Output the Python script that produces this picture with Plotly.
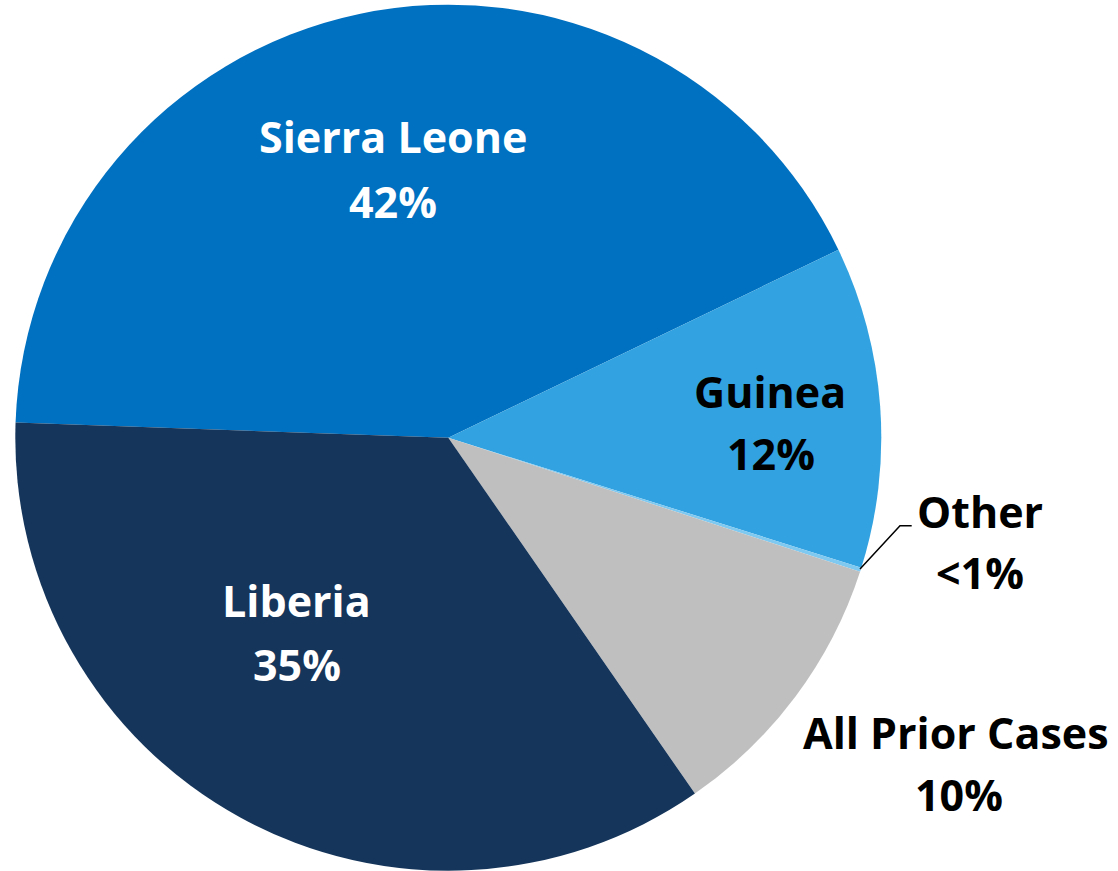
import plotly.graph_objects as go

W, H = 1118, 871

categories = ["Sierra Leone", "Guinea", "Other", "All Prior Cases", "Liberia"]
shares = [42.3, 12.0, 0.15, 10.35, 35.2]          # slice sizes
pct_labels = ["42%", "12%", "<1%", "10%", "35%"]  # printed labels
colors = ["#0070C0", "#32A2E0", "#7FC8F0", "#BFBFBF", "#15355A"]
text_colors = ["white", "black", "black", "black", "white"]

# label centres in pixels (name line, percent line)
label_pos = {
    "Sierra Leone": ((393, 137), (393, 201)),
    "Guinea": ((770, 391), (771, 453)),
    "Other": ((980, 511), (980, 572)),
    "All Prior Cases": ((956, 732), (959, 794)),
    "Liberia": ((296, 600), (297, 664)),
}

cx, cy, r = 448.3, 437.7, 433

fig = go.Figure(go.Pie(
    labels=categories,
    values=shares,
    sort=False,
    direction="clockwise",
    rotation=-88,
    marker=dict(colors=colors, line=dict(width=0)),
    textinfo="none",
    hoverinfo="label+percent",
    showlegend=False,
    domain=dict(x=[(cx - r) / W, (cx + r) / W], y=[1 - (cy + r) / H, 1 - (cy - r) / H]),
))

FONT = "Open Sans"
SIZE = 43
anns = []
for name, pct, tc in zip(categories, pct_labels, text_colors):
    (x1, y1), (x2, y2) = label_pos[name]
    for txt, (x, y) in ((name, (x1, y1)), (pct, (x2, y2))):
        anns.append(dict(
            text=f"<b>{txt}</b>", x=x / W, y=1 - y / H, xref="paper", yref="paper",
            xanchor="center", yanchor="middle", showarrow=False,
            font=dict(family=FONT, size=SIZE, color=tc),
        ))

# leader line for "Other"
fig.add_shape(type="path", xref="paper", yref="paper",
              path=f"M {860/W},{1-569/H} L {900/W},{1-525.7/H} L {911.7/W},{1-525.7/H}",
              line=dict(color="black", width=1.5))

fig.update_layout(
    width=W, height=H,
    margin=dict(l=0, r=0, t=0, b=0),
    paper_bgcolor="white", plot_bgcolor="white",
    annotations=anns,
)

fig.write_html("out.html", config={"displayModeBar": False},
               post_script="document.body.style.margin='0';document.body.style.overflow='hidden';")
